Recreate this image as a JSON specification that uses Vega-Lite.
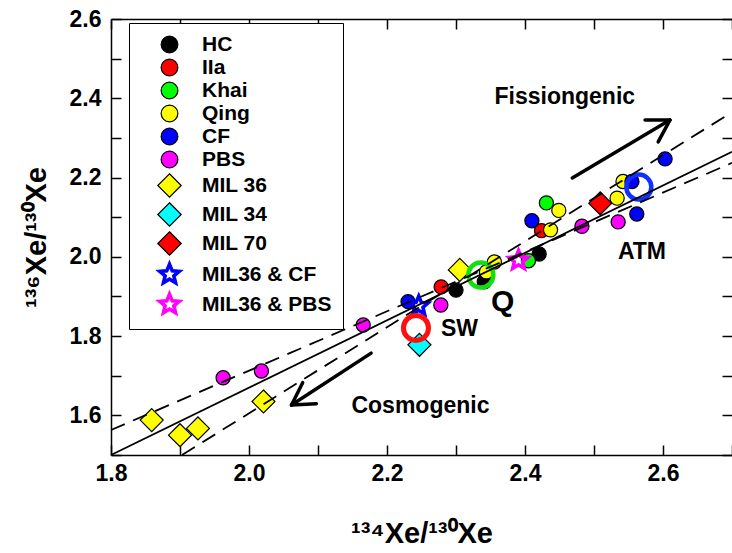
{
  "$schema": "https://vega.github.io/schema/vega-lite/v6.json",
  "width": 621,
  "height": 436,
  "autosize": {"type": "none"},
  "padding": {"left": 111, "top": 19, "right": 0, "bottom": 98},
  "background": "white",
  "config": {
    "font": "Liberation Sans",
    "view": {"stroke": null},
    "axis": {
      "grid": false, "domain": true, "domainColor": "black", "domainWidth": 1.5, "tickColor": "black", "tickWidth": 1.5,
      "labelColor": "black", "labelFontWeight": "bold", "labelFontSize": 23,
      "titleColor": "black", "titleFontWeight": "bold", "titleFontSize": 29,
      "labelFlush": false, "labelOverlap": false
    },
    "legend": {
      "orient": "none", "legendX": 18, "legendY": 4,
      "strokeColor": "black", "fillColor": "white", "padding": 11,
      "labelFontSize": 21, "labelFontWeight": "bold", "labelColor": "black", "labelFont": "Liberation Sans",
      "rowPadding": 0, "symbolSize": 280, "symbolStrokeWidth": 1.2, "labelOffset": 22, "symbolOffset": 19, "labelLimit": 300
    }
  },
  "layer": [
    {
      "data": {"values": [
        {"series": "HC", "x": 2.300, "y": 1.916},
        {"series": "HC", "x": 2.341, "y": 1.937},
        {"series": "HC", "x": 2.4205, "y": 2.007},
        {"series": "IIa", "x": 2.2785, "y": 1.924},
        {"series": "IIa", "x": 2.424, "y": 2.066},
        {"series": "Khai", "x": 2.431, "y": 2.136},
        {"series": "Khai", "x": 2.405, "y": 1.990},
        {"series": "Qing", "x": 2.449, "y": 2.117},
        {"series": "Qing", "x": 2.437, "y": 2.068},
        {"series": "Qing", "x": 2.5335, "y": 2.148},
        {"series": "Qing", "x": 2.542, "y": 2.190},
        {"series": "Qing", "x": 2.3556, "y": 1.987},
        {"series": "Qing", "x": 2.344, "y": 1.962},
        {"series": "CF", "x": 2.2305, "y": 1.887},
        {"series": "CF", "x": 2.410, "y": 2.091},
        {"series": "CF", "x": 2.555, "y": 2.190},
        {"series": "CF", "x": 2.603, "y": 2.247},
        {"series": "CF", "x": 2.562, "y": 2.108},
        {"series": "PBS", "x": 1.9625, "y": 1.695},
        {"series": "PBS", "x": 2.018, "y": 1.712},
        {"series": "PBS", "x": 2.1655, "y": 1.828},
        {"series": "PBS", "x": 2.278, "y": 1.8785},
        {"series": "PBS", "x": 2.4825, "y": 2.077},
        {"series": "PBS", "x": 2.535, "y": 2.088},
        {"series": "MIL 36", "x": 1.859, "y": 1.588},
        {"series": "MIL 36", "x": 1.900, "y": 1.550},
        {"series": "MIL 36", "x": 1.926, "y": 1.567},
        {"series": "MIL 36", "x": 2.021, "y": 1.635},
        {"series": "MIL 36", "x": 2.3055, "y": 1.967},
        {"series": "MIL 34", "x": 2.247, "y": 1.778},
        {"series": "MIL 70", "x": 2.509, "y": 2.135},
        {"series": "MIL36 & CF", "x": 2.246, "y": 1.876},
        {"series": "MIL36 & PBS", "x": 2.3906, "y": 1.991}
      ]},
      "mark": {"type": "point", "filled": true, "opacity": 1, "strokeWidth": 1.2},
      "encoding": {
        "x": {"field": "x", "type": "quantitative",
          "scale": {"domain": [1.8, 2.7], "nice": false, "zero": false},
          "axis": {"orient": "bottom", "values": [1.8, 1.9, 2.0, 2.1, 2.2, 2.3, 2.4, 2.5, 2.6, 2.7],
            "labelExpr": "round(datum.value*10) % 2 == 0 ? format(datum.value, '.1f') : ''",
            "tickSize": -10, "labelPadding": 17, "title": "¹³⁴Xe/¹³⁰Xe", "titlePadding": 34}},
        "y": {"field": "y", "type": "quantitative",
          "scale": {"domain": [1.5, 2.6], "nice": false, "zero": false},
          "axis": {"orient": "left", "values": [1.5, 1.6, 1.7, 1.8, 1.9, 2.0, 2.1, 2.2, 2.3, 2.4, 2.5, 2.6],
            "labelExpr": "round(datum.value*10) % 2 == 0 ? format(datum.value, '.1f') : ''",
            "tickSize": -10, "labelPadding": 20, "title": "¹³⁶Xe/¹³⁰Xe", "titlePadding": 18}},
        "fill": {"field": "series", "type": "nominal",
          "scale": {"domain": ["HC", "IIa", "Khai", "Qing", "CF", "PBS", "MIL 36", "MIL 34", "MIL 70", "MIL36 & CF", "MIL36 & PBS"],
            "range": ["#000000", "#ff0000", "#00ff00", "#ffff00", "#0000ff", "#ff00ff", "#ffff00", "#00ffff", "#ff0000", "#0000ff", "#ff00ff"]},
          "legend": {"title": null}},
        "stroke": {"field": "series", "type": "nominal",
          "scale": {"domain": ["HC", "IIa", "Khai", "Qing", "CF", "PBS", "MIL 36", "MIL 34", "MIL 70", "MIL36 & CF", "MIL36 & PBS"],
            "range": ["#000000", "#000000", "#000000", "#000000", "#000000", "#000000", "#000000", "#000000", "#000000", "#0000ff", "#ff00ff"]},
          "legend": {"title": null}},
        "shape": {"field": "series", "type": "nominal",
          "scale": {"domain": ["HC", "IIa", "Khai", "Qing", "CF", "PBS", "MIL 36", "MIL 34", "MIL 70", "MIL36 & CF", "MIL36 & PBS"],
            "range": ["circle", "circle", "circle", "circle", "circle", "circle",
              "M0,-1.4L1.4,0L0,1.4L-1.4,0Z", "M0,-1.4L1.4,0L0,1.4L-1.4,0Z", "M0,-1.4L1.4,0L0,1.4L-1.4,0Z",
              "M0,-1.6L0.423,-0.582L1.522,-0.494L0.685,0.222L0.94,1.294L0,0.72L-0.94,1.294L-0.685,0.222L-1.522,-0.494L-0.423,-0.582ZM0,-0.85L-0.225,-0.31L-0.808,-0.263L-0.364,0.118L-0.5,0.688L0,0.383L0.5,0.688L0.364,0.118L0.808,-0.263L0.225,-0.31Z",
              "M0,-1.6L0.423,-0.582L1.522,-0.494L0.685,0.222L0.94,1.294L0,0.72L-0.94,1.294L-0.685,0.222L-1.522,-0.494L-0.423,-0.582ZM0,-0.85L-0.225,-0.31L-0.808,-0.263L-0.364,0.118L-0.5,0.688L0,0.383L0.5,0.688L0.364,0.118L0.808,-0.263L0.225,-0.31Z"]},
          "legend": {"title": null}},
        "size": {"condition": [
            {"test": "indexof(['MIL 36','MIL 34','MIL 70'], datum.series) >= 0", "value": 269},
            {"test": "indexof(['MIL36 & CF','MIL36 & PBS'], datum.series) >= 0", "value": 260}
          ], "value": 200}
      }
    },
    {
      "data": {"values": [{"name": "SW", "x": 2.242, "y": 1.8205}]},
      "mark": {"type": "point", "shape": "circle", "filled": false, "fill": "transparent", "stroke": "#ff1010", "strokeWidth": 5, "size": 625, "opacity": 1},
      "encoding": {
        "x": {"field": "x", "type": "quantitative", "scale": {"domain": [1.8, 2.7], "nice": false, "zero": false},
          "axis": {"orient": "top", "values": [1.8, 1.9, 2.0, 2.1, 2.2, 2.3, 2.4, 2.5, 2.6, 2.7], "labels": false, "tickSize": -10, "title": null}},
        "y": {"field": "y", "type": "quantitative", "scale": {"domain": [1.5, 2.6], "nice": false, "zero": false},
          "axis": {"orient": "right", "values": [1.5, 1.6, 1.7, 1.8, 1.9, 2.0, 2.1, 2.2, 2.3, 2.4, 2.5, 2.6], "labels": false, "domain": false, "tickSize": -10, "title": null}}
      }
    },
    {
      "data": {"values": [{"name": "Q", "x": 2.336, "y": 1.954}]},
      "mark": {"type": "point", "shape": "circle", "filled": false, "fill": "transparent", "stroke": "#10e010", "strokeWidth": 4.5, "size": 625, "opacity": 1},
      "encoding": {
        "x": {"field": "x", "type": "quantitative", "scale": {"domain": [1.8, 2.7], "nice": false, "zero": false}, "axis": null},
        "y": {"field": "y", "type": "quantitative", "scale": {"domain": [1.5, 2.6], "nice": false, "zero": false}, "axis": null}
      }
    },
    {
      "data": {"values": [{"name": "ATM", "x": 2.565, "y": 2.176}]},
      "mark": {"type": "point", "shape": "circle", "filled": false, "fill": "transparent", "stroke": "#1030ff", "strokeWidth": 4.5, "size": 625, "opacity": 1},
      "encoding": {
        "x": {"field": "x", "type": "quantitative", "scale": {"domain": [1.8, 2.7], "nice": false, "zero": false}, "axis": null},
        "y": {"field": "y", "type": "quantitative", "scale": {"domain": [1.5, 2.6], "nice": false, "zero": false}, "axis": null}
      }
    },
    {
      "data": {"values": [{"line": "fit", "x": 1.8, "y": 1.5, "x2": 2.7, "y2": 2.265}]},
      "mark": {"type": "rule", "color": "black", "strokeWidth": 1.8},
      "encoding": {
        "x": {"field": "x", "type": "quantitative", "scale": {"domain": [1.8, 2.7], "nice": false, "zero": false}, "axis": null},
        "y": {"field": "y", "type": "quantitative", "scale": {"domain": [1.5, 2.6], "nice": false, "zero": false}, "axis": null},
        "x2": {"field": "x2"},
        "y2": {"field": "y2"}
      }
    },
    {
      "data": {"values": [
        {"line": "upper", "x": 1.903, "y": 1.5, "x2": 2.7, "y2": 2.365},
        {"line": "lower", "x": 1.8, "y": 1.563, "x2": 2.7, "y2": 2.237}
      ]},
      "mark": {"type": "rule", "color": "black", "strokeWidth": 1.8, "strokeDash": [15, 9]},
      "encoding": {
        "x": {"field": "x", "type": "quantitative", "scale": {"domain": [1.8, 2.7], "nice": false, "zero": false}, "axis": null},
        "y": {"field": "y", "type": "quantitative", "scale": {"domain": [1.5, 2.6], "nice": false, "zero": false}, "axis": null},
        "x2": {"field": "x2"},
        "y2": {"field": "y2"}
      }
    },
    {
      "data": {"values": [
        {"part": "fission shaft", "x": 2.4685, "y": 2.199, "x2": 2.610, "y2": 2.345},
        {"part": "fission barb 1", "x": 2.610, "y": 2.345, "x2": 2.574, "y2": 2.345},
        {"part": "fission barb 2", "x": 2.610, "y": 2.345, "x2": 2.593, "y2": 2.290},
        {"part": "cosmo shaft", "x": 2.177, "y": 1.757, "x2": 2.0616, "y2": 1.626},
        {"part": "cosmo barb 1", "x": 2.0616, "y": 1.626, "x2": 2.0977, "y2": 1.6295},
        {"part": "cosmo barb 2", "x": 2.0616, "y": 1.626, "x2": 2.0778, "y2": 1.6825}
      ]},
      "mark": {"type": "rule", "color": "black", "strokeWidth": 3.5, "strokeCap": "round"},
      "encoding": {
        "x": {"field": "x", "type": "quantitative", "scale": {"domain": [1.8, 2.7], "nice": false, "zero": false}, "axis": null},
        "y": {"field": "y", "type": "quantitative", "scale": {"domain": [1.5, 2.6], "nice": false, "zero": false}, "axis": null},
        "x2": {"field": "x2"},
        "y2": {"field": "y2"}
      }
    },
    {
      "data": {"values": [
        {"label": "Fissiongenic", "x": 2.4577, "y": 2.402},
        {"label": "Cosmogenic", "x": 2.2485, "y": 1.624},
        {"label": "ATM", "x": 2.5695, "y": 2.013},
        {"label": "SW", "x": 2.305, "y": 1.819}
      ]},
      "mark": {"type": "text", "font": "Liberation Sans", "fontSize": 23, "fontWeight": "bold", "color": "black", "align": "center", "baseline": "middle"},
      "encoding": {
        "x": {"field": "x", "type": "quantitative", "scale": {"domain": [1.8, 2.7], "nice": false, "zero": false}, "axis": null},
        "y": {"field": "y", "type": "quantitative", "scale": {"domain": [1.5, 2.6], "nice": false, "zero": false}, "axis": null},
        "text": {"field": "label"}
      }
    },
    {
      "data": {"values": [{"label": "Q", "x": 2.3675, "y": 1.886}]},
      "mark": {"type": "text", "font": "Liberation Sans", "fontSize": 30, "fontWeight": "bold", "color": "black", "align": "center", "baseline": "middle"},
      "encoding": {
        "x": {"field": "x", "type": "quantitative", "scale": {"domain": [1.8, 2.7], "nice": false, "zero": false}, "axis": null},
        "y": {"field": "y", "type": "quantitative", "scale": {"domain": [1.5, 2.6], "nice": false, "zero": false}, "axis": null},
        "text": {"field": "label"}
      }
    }
  ],
  "resolve": {"axis": {"x": "independent", "y": "independent"}}
}
